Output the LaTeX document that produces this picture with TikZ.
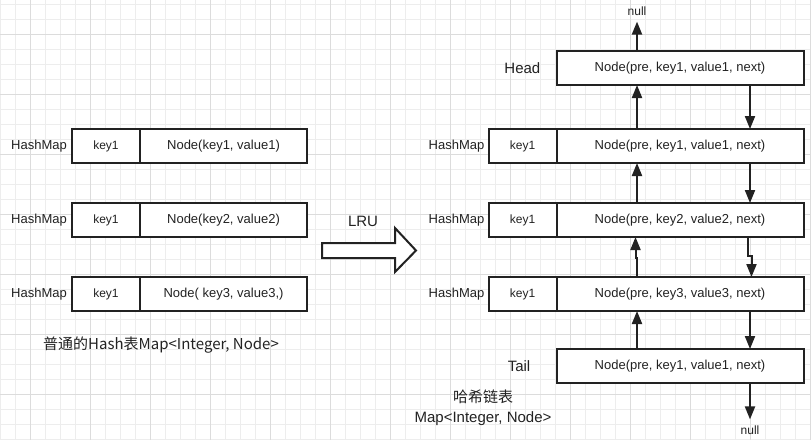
\documentclass[tikz,border=0pt]{standalone}
\usepackage{fontspec}
\setmainfont{Liberation Sans}
\newfontfamily\cjk{Noto Sans CJK SC}
\usepackage{tikz}
\usetikzlibrary{arrows.meta,positioning}
\definecolor{ink}{HTML}{222222}
\definecolor{gridminor}{HTML}{EDEDED}
\definecolor{gridmajor}{HTML}{DCDCDC}

\begin{document}
\begin{tikzpicture}
[x=1pt,y=-1pt,>={Triangle[length=13pt,width=10pt]},text=ink,node distance=40pt]
  \tikzstyle{cell}=[draw=ink,fill=white,line width=2pt,minimum height=34pt,inner sep=0pt,outer sep=0pt,font=\fontsize{13}{15}\selectfont]
  \tikzstyle{keycell}=[cell,minimum width=68pt,font=\fontsize{12}{14}\selectfont]
  \tikzstyle{lbl}=[inner sep=0pt,font=\fontsize{13}{15}\selectfont]
  \tikzstyle{big}=[inner sep=0pt,font=\fontsize{15}{19.7}\selectfont]
  \tikzstyle{nullnode}=[inner sep=0pt,inner ysep=6pt,font=\fontsize{12}{14}\selectfont]
  \tikzstyle{link}=[->,draw=ink,line width=2pt]

  \useasboundingbox (0,0) rectangle (811,440);
  \fill[white] (0,0) rectangle (811,440);
  \foreach \x in {0,15,...,810} \draw[gridminor,line width=1pt] (\x,0) -- (\x,440);
  \foreach \y in {4,19,...,439} \draw[gridminor,line width=1pt] (0,\y) -- (811,\y);
  \foreach \x in {30,90,...,810} \draw[gridmajor,line width=1pt] (\x,0) -- (\x,440);
  \foreach \y in {34,94,...,439} \draw[gridmajor,line width=1pt] (0,\y) -- (811,\y);

  % plain map
  \node[keycell] (k1) at (106,146) {key1};
  \node[cell,minimum width=167pt] (v1) [right=0pt of k1] {Node(key1, value1)};
  \node[keycell] (k2) [below=40pt of k1] {key1};
  \node[cell,minimum width=167pt] (v2) [right=0pt of k2] {Node(key2, value2)};
  \node[keycell] (k3) [below=40pt of k2] {key1};
  \node[cell,minimum width=167pt] (v3) [right=0pt of k3] {Node( key3, value3,)};
  \node[lbl] (m1) [left=5pt of k1] {HashMap};
  \node[lbl] (m2) [left=5pt of k2] {HashMap};
  \node[lbl] (m3) [left=5pt of k3] {HashMap};
  \node[big] (plaincap) at (161,345) {\cjk 普通的Hash表Map<Integer, Node>};

  % LRU arrow
  \node[big] (lrutxt) at (363,221) {LRU};
  \draw[draw=ink,fill=white,line width=2pt] (322,243) -- (395,243) -- (395,228)
    -- (416,250.5) -- (395,272) -- (395,258) -- (322,258) -- cycle;

  % linked hash map
  \node[keycell] (rk1) at (522.5,146) {key1};
  \node[cell,minimum width=247pt] (rv1) [right=0pt of rk1] {Node(pre, key1, value1, next)};
  \node[keycell] (rk2) [below=40pt of rk1] {key1};
  \node[cell,minimum width=247pt] (rv2) [right=0pt of rk2] {Node(pre, key2, value2, next)};
  \node[keycell] (rk3) [below=40pt of rk2] {key1};
  \node[cell,minimum width=247pt] (rv3) [right=0pt of rk3] {Node(pre, key3, value3, next)};
  \node[cell,minimum width=247pt] (head) [above=44pt of rv1] {Node(pre, key1, value1, next)};
  \node[cell,minimum width=247pt] (tail) [below=38pt of rv3] {Node(pre, key1, value1, next)};
  \node[lbl] (rm1) [left=4pt of rk1] {HashMap};
  \node[lbl] (rm2) [left=4pt of rk2] {HashMap};
  \node[lbl] (rm3) [left=4pt of rk3] {HashMap};
  \node[big] (headlbl) [left=16pt of head] {Head};
  \node[big] (taillbl) [left=26pt of tail] {Tail};
  \node[big,align=center] (linkcap) at (483,408) {{\cjk 哈希链表}\\Map<Integer, Node>};
  \node[nullnode] (nulltop) at (637,11) {null};
  \node[nullnode] (nullbot) at (750,430) {null};

  \draw[link] ([xshift=-43pt]head.north) -- (nulltop.south);
  \draw[link] ([xshift=-43pt]rv1.north) -- ([xshift=-43pt]head.south);
  \draw[link] ([xshift=70pt]head.south) -- ([xshift=70pt]rv1.north);
  \draw[link] ([xshift=-43pt]rv2.north) -- ([xshift=-43pt]rv1.south);
  \draw[link] ([xshift=70pt]rv1.south) -- ([xshift=70pt]rv2.north);
  \draw[link] ([xshift=-43pt]rv3.north) -- ++(0,-19) -| ([xshift=-44.5pt]rv2.south);
  \draw[link] ([xshift=68pt]rv2.south) -- ++(0,19) -| ([xshift=71.5pt]rv3.north);
  \draw[link] ([xshift=-43pt]tail.north) -- ([xshift=-43pt]rv3.south);
  \draw[link] ([xshift=70pt]rv3.south) -- ([xshift=70pt]tail.north);
  \draw[link] ([xshift=70pt]tail.south) -- (nullbot.north);
\end{tikzpicture}
\end{document}
